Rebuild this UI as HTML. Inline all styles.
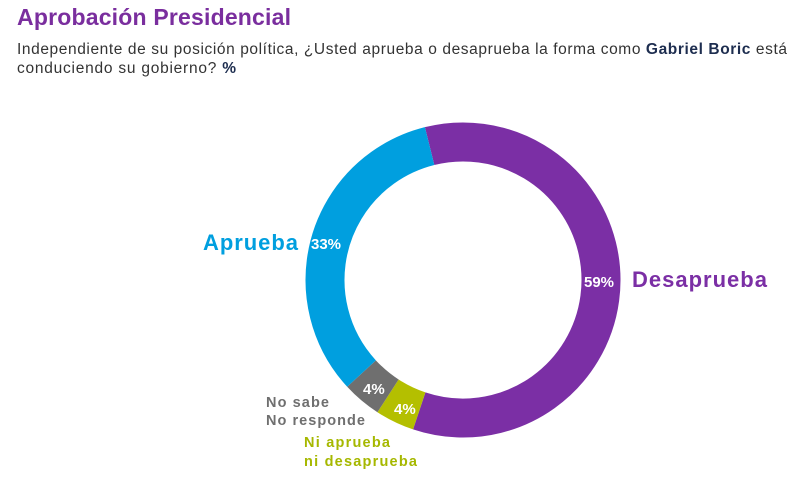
<!DOCTYPE html>
<html><head><meta charset="utf-8"><style>
body{margin:0;width:800px;height:484px;background:#fff;overflow:hidden;font-family:"Liberation Sans",sans-serif}
</style></head><body>
<svg width="800" height="484" xmlns="http://www.w3.org/2000/svg" style="position:absolute;left:0;top:0">
<text x="17" y="25" font-size="23" font-weight="bold" fill="#7a2e9e" textLength="274">Aprobación Presidencial</text>
<text x="17" y="54" font-size="15.5" fill="#333" textLength="770">Independiente de su posición política, ¿Usted aprueba o desaprueba la forma como <tspan font-weight="bold" fill="#1d2d4f">Gabriel Boric</tspan> está</text>
<text x="17" y="73" font-size="15.5" fill="#333" textLength="219">conduciendo su gobierno? <tspan font-weight="bold" fill="#1d2d4f">%</tspan></text>
<g transform="rotate(-104 463 280)" fill="none" stroke-width="39">
<circle cx="463" cy="280" r="138" stroke="#7b2fa5" stroke-dasharray="511.6 1000" stroke-dashoffset="0"/>
<circle cx="463" cy="280" r="138" stroke="#b4bf00" stroke-dasharray="34.7 1000" stroke-dashoffset="-511.6"/>
<circle cx="463" cy="280" r="138" stroke="#6f6f6f" stroke-dasharray="34.7 1000" stroke-dashoffset="-546.3"/>
<circle cx="463" cy="280" r="138" stroke="#009fdf" stroke-dasharray="286.4 1000" stroke-dashoffset="-581"/>
</g>
<g font-weight="bold">
<text x="203" y="250" font-size="22" fill="#009fdf" textLength="95">Aprueba</text>
<text x="311" y="249" font-size="15" fill="#fff">33%</text>
<text x="584" y="287" font-size="15" fill="#fff">59%</text>
<text x="632" y="287" font-size="22" fill="#7b2fa5" textLength="135">Desaprueba</text>
<text x="363" y="394" font-size="15" fill="#fff">4%</text>
<text x="394" y="414" font-size="15" fill="#fff">4%</text>
<text x="266" y="407" font-size="14.5" fill="#6f6f6f" textLength="63">No sabe</text>
<text x="266" y="425" font-size="14.5" fill="#6f6f6f" textLength="99">No responde</text>
<text x="304" y="447" font-size="14.5" fill="#a6b800" textLength="86">Ni aprueba</text>
<text x="304" y="466" font-size="14.5" fill="#a6b800" textLength="113">ni desaprueba</text>
</g>
</svg>
</body></html>
